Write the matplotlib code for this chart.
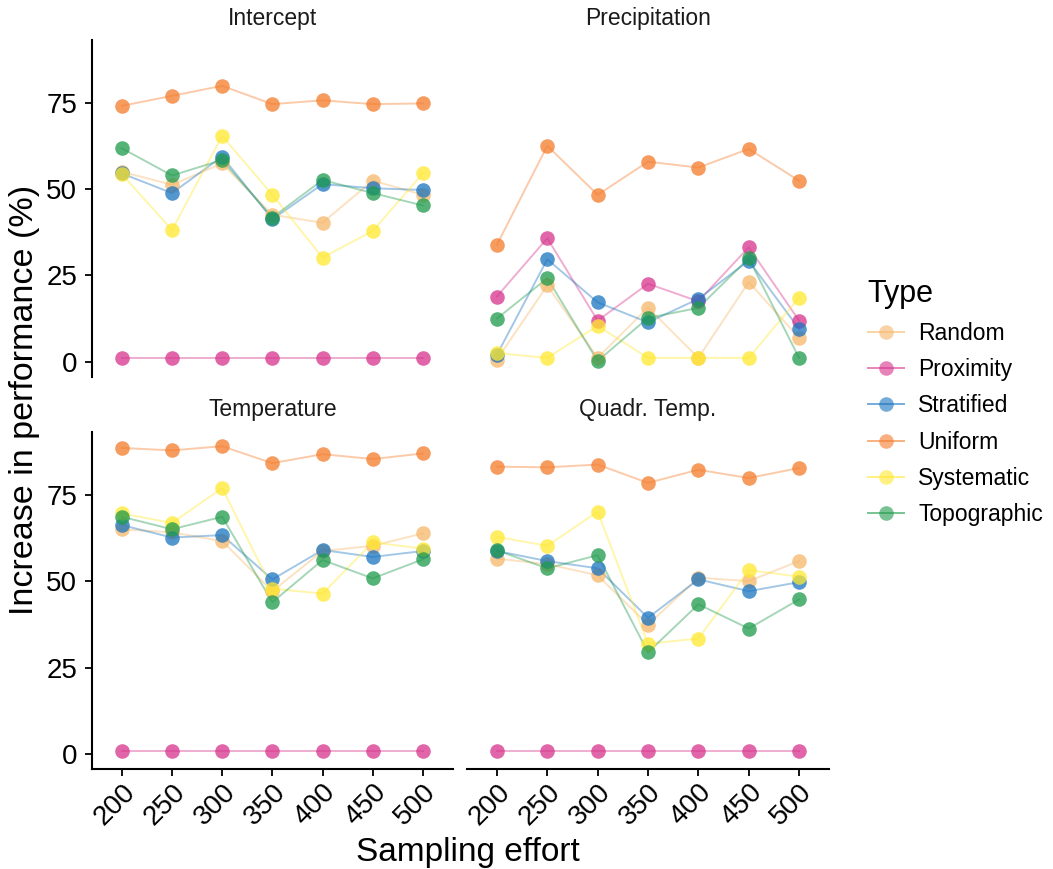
import matplotlib
matplotlib.use("Agg")
from matplotlib import pyplot as plt
from matplotlib.lines import Line2D
import numpy as np

plt.rcParams['font.family'] = ['Liberation Sans', 'DejaVu Sans']

efforts = ["200", "250", "300", "350", "400", "450", "500"]
types = ["Random", "Proximity", "Stratified", "Uniform", "Systematic", "Topographic"]
colors = ["#F6B76A", "#D6338C", "#1A74C0", "#F57B2A", "#FFE82E", "#1E9A4B"]
panels = ["Intercept", "Precipitation", "Temperature", "Quadr. Temp."]

intercept = {
    "Random":      [55.1, 51.3, 57.5, 42.6, 40.3, 52.5, 48.4],
    "Proximity":   [1.0, 1.0, 1.0, 1.0, 1.0, 1.0, 1.0],
    "Stratified":  [54.6, 48.9, 59.5, 41.3, 51.5, 50.3, 49.8],
    "Uniform":     [74.2, 77.1, 80.0, 74.7, 75.8, 74.7, 74.9],
    "Systematic":  [54.4, 38.2, 65.5, 48.4, 30.2, 37.9, 54.6],
    "Topographic": [61.9, 54.0, 58.5, 41.8, 52.7, 48.9, 45.3],
}
precipitation = {
    "Random":      [0.6, 22.1, 1.1, 15.7, 1.1, 23.1, 6.9],
    "Proximity":   [18.9, 35.8, 11.9, 22.6, 17.5, 33.2, 11.9],
    "Stratified":  [2.0, 29.7, 17.2, 11.4, 18.2, 29.3, 9.5],
    "Uniform":     [33.9, 62.6, 48.4, 58.0, 56.3, 61.7, 52.5],
    "Systematic":  [2.5, 1.1, 10.4, 1.1, 1.1, 1.1, 18.6],
    "Topographic": [12.5, 24.2, 0.2, 12.7, 15.6, 30.0, 1.1],
}
temperature = {
    "Random":      [65.1, 64.2, 61.7, 47.2, 58.8, 60.3, 63.9],
    "Proximity":   [1.0, 1.0, 1.0, 1.0, 1.0, 1.0, 1.0],
    "Stratified":  [66.3, 62.7, 63.4, 50.6, 59.1, 57.1, 58.8],
    "Uniform":     [88.6, 87.9, 89.1, 84.2, 86.8, 85.4, 87.0],
    "Systematic":  [69.7, 66.9, 77.0, 47.9, 46.5, 61.3, 59.5],
    "Topographic": [68.7, 65.1, 68.7, 44.0, 56.2, 50.9, 56.4],
}
quadr_temp = {
    "Random":      [56.6, 55.0, 51.8, 37.5, 51.1, 50.1, 55.9],
    "Proximity":   [1.0, 1.0, 1.0, 1.0, 1.0, 1.0, 1.0],
    "Stratified":  [58.8, 55.9, 53.8, 39.5, 50.6, 47.2, 49.8],
    "Uniform":     [83.2, 83.0, 83.8, 78.5, 82.3, 79.9, 82.8],
    "Systematic":  [62.9, 60.3, 70.2, 32.0, 33.5, 53.3, 51.4],
    "Topographic": [59.0, 53.8, 57.6, 29.5, 43.4, 36.4, 44.8],
}
panel_data = [intercept, precipitation, temperature, quadr_temp]

fig = plt.figure(figsize=(10.53, 8.69), dpi=100)
W, H = 1053, 869
# panel boxes in pixels: left, top, right, bottom
boxes = [(91.7, 40, 453, 376.5), (466.7, 40, 829.3, 376.5),
         (91.7, 431.7, 453, 769.3), (466.7, 431.7, 829.3, 769.3)]

x = np.arange(1, len(efforts) + 1)
for i, (name, data, box) in enumerate(zip(panels, panel_data, boxes)):
    l, t, r, b = box
    ax = fig.add_axes([l / W, 1 - b / H, (r - l) / W, (b - t) / H])
    for typ, col in zip(types, colors):
        ax.plot(x, data[typ], color=col, alpha=0.4, lw=1.4, zorder=2)
    for typ, col in zip(types, colors):
        ax.plot(x, data[typ], ls="none", marker="o", ms=10.5, mew=0,
                color=col, alpha=0.75, zorder=3)
    ax.set_xlim(0.4, 7.6)
    ax.set_ylim(-4.3, 93.3)
    ax.set_yticks([0, 25, 50, 75])
    ax.set_xticks(x)
    ax.text(0.5, 1.065, name, transform=ax.transAxes, ha="center",
            va="center", fontsize=16.5, color="#1a1a1a")
    for s in ["top", "right"]:
        ax.spines[s].set_visible(False)
    for s in ["left", "bottom"]:
        ax.spines[s].set_linewidth(1.5)
    ax.tick_params(length=5, width=1.3, colors="black")
    ax.tick_params(axis="y", labelsize=20, pad=5.5)
    if i % 2 == 1:
        ax.spines["left"].set_visible(False)
        ax.tick_params(axis="y", left=False, labelleft=False)
    if i < 2:
        ax.spines["bottom"].set_visible(False)
        ax.tick_params(axis="x", bottom=False, labelbottom=False)
    else:
        ax.tick_params(axis="x", labelsize=20, pad=2)
        ax.set_xticklabels(efforts, rotation=45, ha="right",
                           rotation_mode="anchor")

fig.text(468 / W, 1 - 853 / H, "Sampling effort", ha="center", va="center",
         fontsize=24)
fig.text(25 / W, 1 - 400 / H, "Increase in performance (%)", ha="center",
         va="center", rotation=90, fontsize=24.5)

handles = [Line2D([], [], color=c, marker="o", ms=10.5, mew=0, lw=1.4, alpha=0.6)
           for c in colors]
fig.legend(handles, types, loc="upper left", bbox_to_anchor=(847 / W, 1 - 258 / H),
           frameon=False, title="Type", title_fontsize=22, fontsize=16.5,
           alignment="left", handlelength=1.6, labelspacing=0.58,
           handletextpad=0.6)

fig.savefig("out.png", dpi=100)
